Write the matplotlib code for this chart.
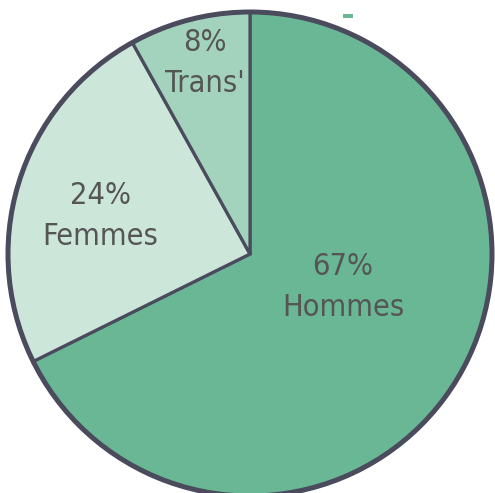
import matplotlib
matplotlib.use('Agg')
from matplotlib import pyplot as plt
from matplotlib.patches import Circle, Rectangle
from matplotlib import font_manager

labels = ['Hommes', 'Femmes', "Trans'"]
values = [67, 24, 8]
colors = ['#6ab795', '#cde6da', '#a3d3bd']
edge = '#4b4b5e'
text_color = '#555555'

# pixel layout of the reference (495 x 493), pie centre and radius in px
W, H = 495, 493
cx, cy, R = 250, 254, 242

fig = plt.figure(figsize=(W / 100, H / 100), dpi=100)
ax = fig.add_axes([0, 0, 1, 1])

ax.pie(values, colors=colors, startangle=90, counterclock=False, radius=1,
       wedgeprops=dict(edgecolor=edge, linewidth=2.3))
ax.add_patch(Circle((0, 0), 1, fill=False, edgecolor=edge, linewidth=3.6, zorder=5))

# small stray tick at the top of the reference
ax.add_patch(Rectangle(((343 - cx) / R, (cy - 18) / R), 10 / R, 4 / R,
                       color=colors[0], lw=0))

# label centres in px
label_pos = [(343, 287), (100, 216), (205, 63)]
for lab, val, (px, py) in zip(labels, values, label_pos):
    ax.text((px - cx) / R, (cy - py) / R, f'{val}%\n{lab}', ha='center', va='center',
            fontsize=22, color=text_color, linespacing=1.5,
            family='DejaVu Sans', fontstretch='condensed')

ax.set_xlim(-cx / R, (W - cx) / R)
ax.set_ylim(-(H - cy) / R, cy / R)
ax.set_aspect('equal')
ax.axis('off')

fig.savefig('out.png', dpi=100, facecolor='white')
